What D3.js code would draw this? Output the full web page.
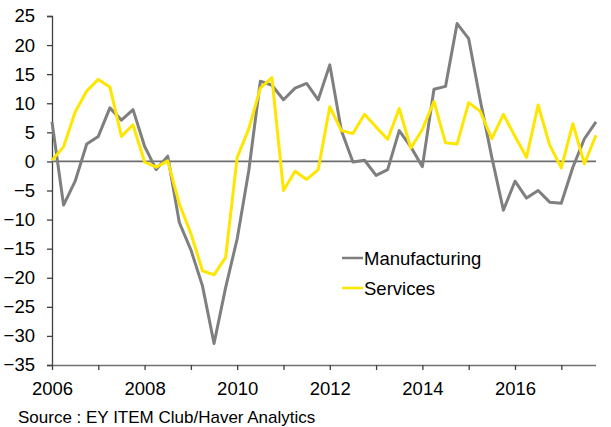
<!DOCTYPE html>
<html>
<head>
<meta charset="utf-8">
<script src="https://cdn.jsdelivr.net/npm/d3@7"></script>
<style>
body { margin: 0; background: #fff; }
svg { font-family: "Liberation Sans", Arial, sans-serif; }
</style>
</head>
<body>
<svg id="chart" width="611" height="427"></svg>
<script>
// quarterly balances, 2006Q1 .. 2017Q4
var startYear = 2006;
var manufacturing = [6.8, -7.5, -3.4, 3.0, 4.3, 9.2, 7.1, 8.9, 2.6, -1.4, 0.9, -10.5,
	-15.2, -21.4, -31.3, -21.7, -13.3, -1.6, 13.8, 13.1, 10.6, 12.6, 13.4, 10.6,
	16.6, 5.3, -0.1, 0.2, -2.4, -1.4, 5.3, 2.5, -0.9, 12.4, 12.9, 23.7,
	21.1, 10.5, 0.7, -8.4, -3.4, -6.3, -5.0, -7.0, -7.2, -1.0, 3.9, 6.8];
var services = [0.2, 2.5, 8.5, 12.1, 14.1, 12.8, 4.3, 6.3, -0.1, -1.0, 0.1, -7.3,
	-12.4, -18.8, -19.5, -16.5, 0.7, 5.6, 12.6, 14.4, -5.0, -1.7, -3.1, -1.4,
	9.4, 5.3, 4.8, 8.1, 5.9, 3.8, 9.1, 2.3, 5.5, 10.3, 3.2, 3.0,
	10.1, 8.6, 3.9, 8.1, 4.3, 0.7, 9.7, 2.8, -1.1, 6.5, -0.4, 4.5];
var yTicks = [-35, -30, -25, -20, -15, -10, -5, 0, 5, 10, 15, 20, 25];
var yearTicks = [2006, 2007, 2008, 2009, 2010, 2011, 2012, 2013, 2014, 2015, 2016, 2017];
var seriesNames = ['Manufacturing', 'Services'];
var seriesColors = ['#7f7f7f', '#ffe600'];

var svg = d3.select('#chart');

var x = d3.scaleLinear().domain([2006, 2017.75]).range([52, 596]);
var y = d3.scaleLinear().domain([-35, 25]).range([365, 16]);

function quarter (i) {
	return startYear + i / 4;
}

// y axis
var yAxis = svg.append('g')
	.attr('transform', 'translate(52,0)')
	.call(d3.axisLeft(y).tickValues(yTicks).tickSize(5).tickPadding(12).tickFormat(d3.format('d')));
yAxis.select('.domain').attr('stroke', '#404040').attr('stroke-width', 1.3);
yAxis.selectAll('.tick line').attr('stroke', '#404040').attr('stroke-width', 1.3);
yAxis.selectAll('text').style('font-size', '18.5px').attr('fill', '#000');

// x axis
var xAxis = svg.append('g')
	.attr('transform', 'translate(0,365)')
	.call(d3.axisBottom(x).tickValues(yearTicks).tickSize(5).tickPadding(12)
		.tickFormat(function (d) { return d % 2 == 0 ? d : ''; }));
xAxis.select('.domain').attr('stroke', '#707070').attr('stroke-width', 1.3).attr('d', 'M52,0.5H596');
xAxis.selectAll('.tick line').attr('stroke', '#404040').attr('stroke-width', 1.3);
xAxis.selectAll('text').style('font-size', '18.5px').attr('fill', '#000');

// zero line
svg.append('line')
	.attr('x1', x(2006)).attr('x2', x(2017.75))
	.attr('y1', y(0)).attr('y2', y(0))
	.attr('stroke', '#6e6e6e')
	.attr('stroke-width', 1.8);

var line = d3.line()
	.x(function (d, i) { return x(quarter(i)); })
	.y(function (d) { return y(d); });

[manufacturing, services].forEach(function (s, k) {
	svg.append('path')
		.datum(s)
		.attr('d', line)
		.attr('fill', 'none')
		.attr('stroke', seriesColors[k])
		.attr('stroke-width', 3)
		.attr('stroke-linejoin', 'round');
});

// legend
var legend = svg.append('g');
seriesNames.forEach(function (name, k) {
	var ly = 258 + k * 30;
	legend.append('line')
		.attr('x1', 342).attr('x2', 363)
		.attr('y1', ly).attr('y2', ly)
		.attr('stroke', seriesColors[k])
		.attr('stroke-width', 2.5);
	legend.append('text')
		.attr('x', 364).attr('y', ly + 7)
		.style('font-size', '18.5px')
		.text(name);
});

svg.append('text')
	.attr('x', 18).attr('y', 423)
	.style('font-size', '17px')
	.text('Source : EY ITEM Club/Haver Analytics');
</script>
</body>
</html>
